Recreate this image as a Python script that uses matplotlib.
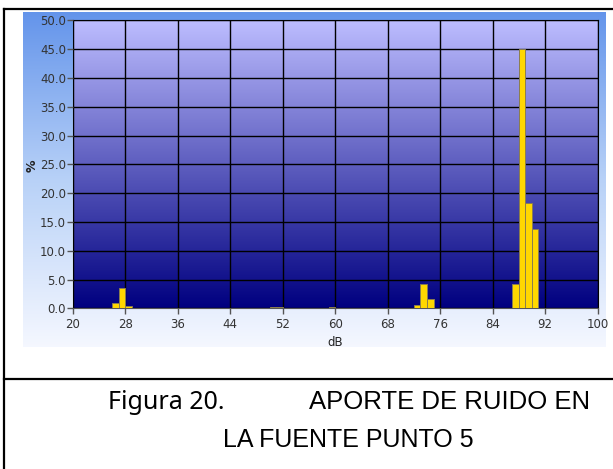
import numpy as np
import matplotlib
matplotlib.use("Agg")
import matplotlib.pyplot as plt
from matplotlib.colors import LinearSegmentedColormap
from matplotlib.lines import Line2D

# ---- data ----
bin_left = [26, 27, 28, 50, 51, 59, 72, 73, 74, 87, 88, 89, 90]
percent = [0.9, 3.6, 0.45, 0.2, 0.2, 0.2, 0.6, 4.2, 1.7, 4.2, 45.1, 18.3, 13.8]
x_ticks = [20, 28, 36, 44, 52, 60, 68, 76, 84, 92, 100]
y_ticks = [0, 5, 10, 15, 20, 25, 30, 35, 40, 45, 50]
x_label = "dB"
y_label = "%"
caption1a = "Figura 20."
caption1b = "APORTE DE RUIDO EN"
caption2 = "LA FUENTE PUNTO 5"

W, H = 613, 469
fig = plt.figure(figsize=(W / 100, H / 100), dpi=100)
fig.patch.set_facecolor("white")

# panel background gradient
pax = fig.add_axes([23 / W, 1 - 347 / H, 583 / W, 335 / H])
pcmap = LinearSegmentedColormap.from_list("p", [(0.39, 0.58, 0.92), (0.72, 0.82, 0.97), (0.96, 0.97, 1.0)])
grad = np.linspace(0, 1, 256).reshape(-1, 1)
pax.imshow(grad, aspect="auto", cmap=pcmap, extent=[0, 1, 0, 1], origin="upper")
pax.axis("off")

# plot axes
ax = fig.add_axes([73 / W, 1 - 308.3 / H, 524.5 / W, 287.8 / H])
cmap = LinearSegmentedColormap.from_list("g", [(0.0, 0.0, 0.50), (0.74, 0.74, 1.0)])
ax.imshow(np.linspace(0, 1, 256).reshape(-1, 1), aspect="auto", cmap=cmap,
          extent=[20, 100, 0, 50], origin="lower", zorder=0)
ax.set_xlim(20, 100)
ax.set_ylim(0, 50)

ax.bar(bin_left, percent, width=1.0, align="edge", color="#FFD700",
       edgecolor="#8a7d50", linewidth=0.7, zorder=3)

ax.set_xticks(x_ticks)
ax.set_yticks(y_ticks)
ax.set_yticklabels([f"{v:.1f}" for v in y_ticks])
ax.grid(True, color="black", linewidth=1.0, zorder=2)
ax.set_axisbelow(False)
for gl in ax.get_xgridlines() + ax.get_ygridlines():
    gl.set_zorder(2)

ax.tick_params(axis="both", colors="#555555", labelcolor="#333333", length=4, width=1)
ax.tick_params(axis="x", pad=3)
ax.tick_params(axis="y", pad=1)
for lab in ax.get_xticklabels() + ax.get_yticklabels():
    lab.set_fontfamily("DejaVu Sans")
    lab.set_fontsize(8.5)
for s in ["top", "right"]:
    ax.spines[s].set_color("black")
for s in ["bottom", "left"]:
    ax.spines[s].set_color("#555555")

fig.text(335 / W, 1 - 342 / H, x_label, ha="center", va="center", fontsize=8.5,
         color="#222222", family="DejaVu Sans")
fig.text(32 / W, 1 - 166 / H, y_label, ha="center", va="center", fontsize=9,
         color="#222222", rotation=90, family="DejaVu Sans", fontweight="bold")

# borders
lw = 1.6
fig.add_artist(Line2D([4 / W, 1.0], [1 - 9 / H, 1 - 9 / H], color="black", linewidth=lw))
fig.add_artist(Line2D([4 / W, 4 / W], [0, 1 - 9 / H], color="black", linewidth=lw))
fig.add_artist(Line2D([4 / W, 1.0], [1 - 379 / H, 1 - 379 / H], color="black", linewidth=lw))

# caption
fig.text(108 / W, 1 - 409 / H, caption1a, ha="left", va="baseline", fontsize=18,
         family="Noto Sans", color="black")
fig.text(590 / W, 1 - 409 / H, caption1b, ha="right", va="baseline", fontsize=18.5,
         family="Liberation Sans", color="black")
fig.text(348 / W, 1 - 447 / H, caption2, ha="center", va="baseline", fontsize=18,
         family="Liberation Sans", color="black")

fig.savefig("out.png", dpi=100)
